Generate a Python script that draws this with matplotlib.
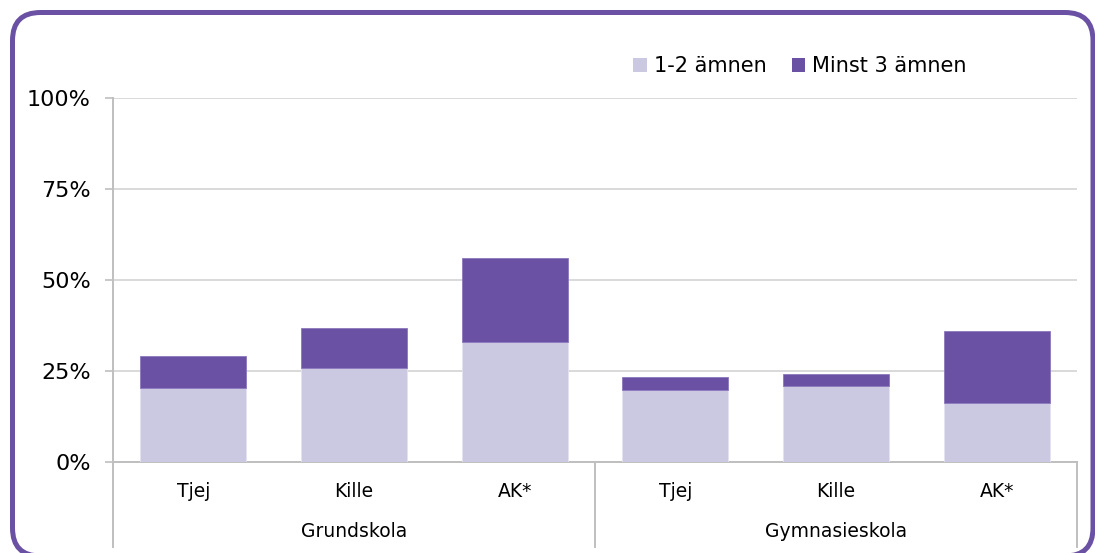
import matplotlib
matplotlib.use('Agg')
from matplotlib import pyplot as plt
from matplotlib.patches import FancyBboxPatch, Patch
from matplotlib.transforms import IdentityTransform, blended_transform_factory

#   data
groups = ['Grundskola', 'Gymnasieskola']
categories = ['Tjej', 'Kille', 'AK*', 'Tjej', 'Kille', 'AK*']
few_subjects = [20.4, 25.8, 32.9, 19.9, 20.8, 16.2]      # 1-2 ämnen
many_subjects = [8.7, 10.9, 23.1, 3.5, 3.3, 19.7]        # Minst 3 ämnen
series_labels = ['1-2 ämnen', 'Minst 3 ämnen']
yticks = [0, 25, 50, 75, 100]

LIGHT = '#CBC9E2'
DARK = '#6A51A3'
GRID = '#D9D9D9'
AXIS = '#BFBFBF'

plt.rcParams['font.family'] = ['DejaVu Sans']

W, H = 1095, 553
fig = plt.figure(figsize=(W / 100, H / 100), dpi=100)
ax = fig.add_axes([113 / W, (H - 462) / H, (1077 - 113) / W, (462 - 98) / H])

x = list(range(len(categories)))
ax.bar(x, few_subjects, width=0.66, color=LIGHT, edgecolor='#E4E2F0', linewidth=0.6, zorder=3)
ax.bar(x, many_subjects, width=0.66, bottom=few_subjects, color=DARK,
       edgecolor='#8C78BE', linewidth=0.6, zorder=3)

ax.set_xlim(-0.5, len(categories) - 0.5)
ax.set_ylim(0, 100)
ax.set_yticks(yticks)
ax.set_yticklabels([f'{v}%' for v in yticks], fontsize=16)
ax.set_xticks([])
ax.grid(axis='y', color=GRID, linewidth=1.4, zorder=0)
ax.tick_params(axis='y', length=6, width=1.2, color=AXIS, pad=10)

for side in ['top', 'right']:
    ax.spines[side].set_visible(False)
ax.spines['left'].set_color(AXIS)
ax.spines['left'].set_linewidth(1.4)
ax.spines['bottom'].set_color(AXIS)
ax.spines['bottom'].set_linewidth(1.4)

#   category and group labels below the axis
trans = blended_transform_factory(ax.transData, ax.transAxes)
for xi, lab in zip(x, categories):
    ax.text(xi, -0.080, lab, transform=trans, ha='center', va='center', fontsize=13.5)
for gi, g in enumerate(groups):
    ax.text(gi * 3 + 1, -0.190, g, transform=trans, ha='center', va='center', fontsize=13.5)

for xs in [-0.5, 2.5, 5.5]:
    ax.plot([xs, xs], [0, -0.234], transform=trans, color=AXIS, linewidth=1.4, clip_on=False)

#   legend
handles = [Patch(facecolor=LIGHT), Patch(facecolor=DARK)]
fig.legend(handles, series_labels, loc='center left', bbox_to_anchor=(633 / W, (H - 66) / H),
           ncol=2, frameon=False, fontsize=15, handlelength=0.65, handleheight=0.65,
           handletextpad=0.35, columnspacing=1.2, borderpad=0, borderaxespad=0)

#   rounded border
border = FancyBboxPatch((12.5, -3), 1093 - 12.5, H - 12.5 + 3,
                        boxstyle='round,pad=0,rounding_size=28',
                        transform=IdentityTransform(), facecolor='none',
                        edgecolor=DARK, linewidth=3.6)
fig.patches.append(border)

fig.savefig('out.png', dpi=100)
